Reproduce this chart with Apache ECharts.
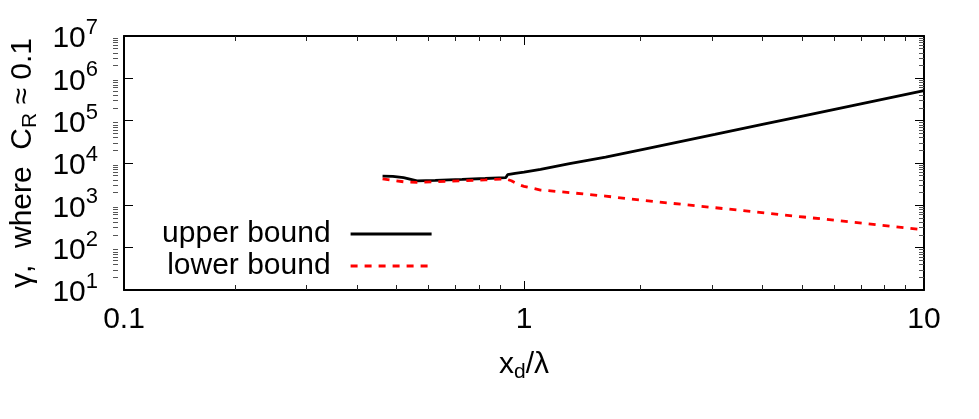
<!DOCTYPE html>
<html>
<head>
<meta charset="utf-8">
<script src="https://cdn.jsdelivr.net/npm/echarts@6/dist/echarts.min.js"></script>
<style>
html,body{margin:0;padding:0;background:#fff;}
#c{width:979px;height:419px;}
</style>
</head>
<body>
<div id="c"></div>
<script>
// x_d / lambda sample points and values
const upperX = [0.443, 0.47, 0.50, 0.54, 0.60, 0.70, 0.80, 0.90, 0.91, 0.95, 1.0, 1.1, 1.3, 1.6, 2, 3, 4, 5, 7, 10];
const upperY = [4900, 4850, 4500, 3800, 3900, 4100, 4300, 4500, 5300, 5700, 6100, 7100, 9700, 13800, 21400, 47600, 84000, 130000, 253000, 510000];
const lowerX = [0.443, 0.47, 0.50, 0.54, 0.60, 0.70, 0.80, 0.90, 0.93, 0.97, 1.0, 1.1, 1.3, 1.6, 2, 3, 4, 5, 7, 10];
const lowerY = [4200, 3900, 3600, 3500, 3600, 3800, 4000, 4200, 3800, 3100, 2800, 2300, 2000, 1650, 1300, 880, 660, 530, 380, 265];
const xMajorTicks = [0.1, 1, 10];
const xMinorTicks = [0.2, 0.3, 0.4, 0.5, 0.6, 0.7, 0.8, 0.9, 2, 3, 4, 5, 6, 7, 8, 9];
const yMajorTicks = [10, 100, 1000, 10000, 100000, 1000000, 10000000];
const yMinorTicks = [];
[10, 100, 1000, 10000, 100000, 1000000].forEach(function (d) {
  [2, 3, 4, 5, 6, 7, 8, 9].forEach(function (k) { yMinorTicks.push(d * k); });
});
const seriesNames = ['upper bound', 'lower bound'];

const FONT = 'Liberation Sans, Arial, Helvetica, sans-serif';
const FS = 30;
const gridRect = { left: 113, top: 36, right: 55, bottom: 129 };

function pairs(xs, ys) { return xs.map(function (x, i) { return [x, ys[i]]; }); }

function xAxisDef(opts) {
  return Object.assign({
    type: 'log', logBase: 10, min: 0.1, max: 10,
    axisLine: { show: true, onZero: false, lineStyle: { color: '#000', width: 2 } },
    axisTick: { show: true, inside: true, length: 9, lineStyle: { color: '#000', width: 1 }, customValues: xMajorTicks },
    axisLabel: { show: false },
    splitLine: { show: false }, minorTick: { show: false }, minorSplitLine: { show: false }
  }, opts);
}
function yAxisDef(opts) {
  return Object.assign({
    type: 'log', logBase: 10, min: 10, max: 10000000,
    axisLine: { show: true, onZero: false, lineStyle: { color: '#000', width: 2 } },
    axisTick: { show: true, inside: true, length: 9, lineStyle: { color: '#000', width: 1 }, customValues: yMajorTicks },
    axisLabel: { show: false },
    splitLine: { show: false }, minorTick: { show: false }, minorSplitLine: { show: false }
  }, opts);
}
const minorTickX = { show: true, inside: true, length: 5, lineStyle: { color: '#222', width: 1 }, customValues: xMinorTicks };
const minorTickY = { show: true, inside: true, length: 5, lineStyle: { color: '#555', width: 1 }, customValues: yMinorTicks };

const chart = echarts.init(document.getElementById('c'), null, { renderer: 'canvas' });
chart.setOption({
  animation: false,
  backgroundColor: '#fff',
  textStyle: { fontFamily: FONT },
  grid: [Object.assign({}, gridRect), Object.assign({}, gridRect)],
  legend: {
    orient: 'vertical', right: 546, top: 219, padding: 0,
    align: 'right', itemWidth: 81, itemHeight: 14, itemGap: 2,
    itemStyle: { opacity: 0 },
    lineStyle: { width: 2.8 },
    textStyle: { fontFamily: FONT, fontSize: FS, color: '#000', lineHeight: 30, padding: [0, 15, 0, 0] },
    data: seriesNames
  },
  xAxis: [
    xAxisDef({
      gridIndex: 0, position: 'bottom',
      axisLabel: { show: true, color: '#000', fontSize: FS, fontFamily: FONT, margin: 15, customValues: xMajorTicks },
      name: 'x{sub|d}/λ', nameLocation: 'middle', nameGap: 57,
      nameTextStyle: { color: '#000', fontSize: FS, fontFamily: FONT,
        rich: { sub: { fontSize: 21, fontFamily: FONT, color: '#000', padding: [15, 0, 0, 0] } } }
    }),
    xAxisDef({ gridIndex: 0, position: 'top' }),
    xAxisDef({ gridIndex: 1, position: 'bottom', axisLine: { show: false }, axisTick: minorTickX }),
    xAxisDef({ gridIndex: 1, position: 'top', axisLine: { show: false }, axisTick: minorTickX })
  ],
  yAxis: [
    yAxisDef({
      gridIndex: 0, position: 'left',
      axisLabel: {
        show: true, margin: 26, customValues: yMajorTicks,
        formatter: function (v) { return '{b|10}{s|' + Math.round(Math.log10(v)) + '}'; },
        rich: {
          b: { fontSize: FS, fontFamily: FONT, color: '#000', lineHeight: 30, padding: [6, 0, 0, 0] },
          s: { fontSize: 22, fontFamily: FONT, color: '#000', lineHeight: 22, padding: [0, 0, 16, 0] }
        }
      },
      name: 'γ,  where  C{sub|R} ≈ 0.1', nameLocation: 'middle', nameGap: 83, nameRotate: 90,
      nameTextStyle: { color: '#000', fontSize: FS, fontFamily: FONT,
        rich: { sub: { fontSize: 21, fontFamily: FONT, color: '#000', padding: [15, 0, 0, 0] } } }
    }),
    yAxisDef({ gridIndex: 0, position: 'right' }),
    yAxisDef({ gridIndex: 1, position: 'left', axisLine: { show: false }, axisTick: minorTickY }),
    yAxisDef({ gridIndex: 1, position: 'right', axisLine: { show: false }, axisTick: minorTickY })
  ],
  series: [
    {
      name: seriesNames[0], type: 'line', xAxisIndex: 0, yAxisIndex: 0,
      data: pairs(upperX, upperY), symbol: 'none', smooth: false,
      lineStyle: { color: '#000', width: 2.8 }, itemStyle: { color: '#000' }
    },
    {
      name: seriesNames[1], type: 'line', xAxisIndex: 0, yAxisIndex: 0,
      data: pairs(lowerX, lowerY), symbol: 'none', smooth: false,
      lineStyle: { color: '#ff0000', width: 2.8, type: [7, 7] }, itemStyle: { color: '#ff0000' }
    }
  ]
});
</script>
</body>
</html>
